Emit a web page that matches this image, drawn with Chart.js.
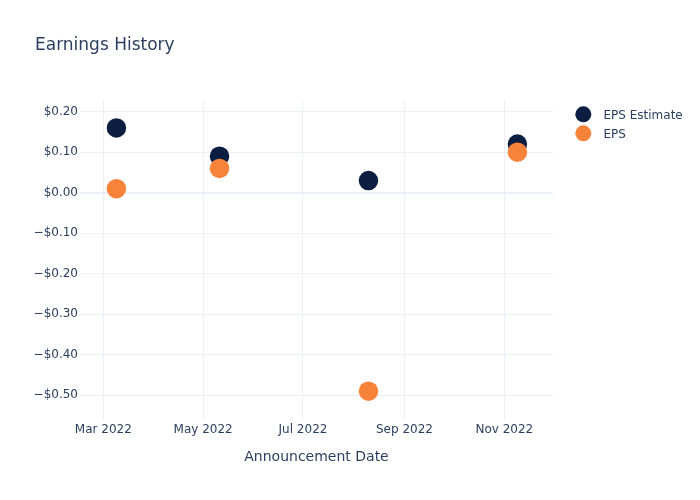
<!DOCTYPE html>
<html>
<head>
<meta charset="utf-8">
<script src="https://cdn.jsdelivr.net/npm/chart.js@4/dist/chart.umd.min.js"></script>
<style>
  html, body { margin: 0; padding: 0; background: #fff; }
  #wrap { width: 700px; height: 500px; }
</style>
</head>
<body>
<div id="wrap"><canvas id="chart" width="700" height="500"></canvas></div>
<script>
  const announceDates = ['2022-03-09', '2022-05-11', '2022-08-10', '2022-11-09'];
  const epsEstimate = [0.16, 0.09, 0.03, 0.12];
  const epsActual = [0.01, 0.06, -0.49, 0.10];

  const xTickDates = ['2022-03-01', '2022-05-01', '2022-07-01', '2022-09-01', '2022-11-01'];
  const xTickLabels = ['Mar 2022', 'May 2022', 'Jul 2022', 'Sep 2022', 'Nov 2022'];
  const yTicks = [-0.5, -0.4, -0.3, -0.2, -0.1, 0, 0.1, 0.2];

  const seriesNames = ['EPS Estimate', 'EPS'];
  const seriesColors = ['#0B1E41', '#F7823A'];

  const fontFamily = '"DejaVu Sans", Verdana, sans-serif';
  const textColor = '#2a3f5f';
  const gridColor = '#EBF0F8';

  const toPoints = (vals) => vals.map((v, i) => ({ x: Date.parse(announceDates[i]), y: v }));
  const fmtMoney = (v) => (v < 0 ? '\u2212$' : '$') + Math.abs(v).toFixed(2);

  // title + legend drawn the plotly way
  const plotlyDecor = {
    id: 'plotlyDecor',
    afterDraw(chart) {
      const ctx = chart.ctx;
      ctx.save();
      ctx.fillStyle = textColor;
      ctx.textBaseline = 'alphabetic';
      ctx.textAlign = 'left';
      ctx.font = '17px ' + fontFamily;
      ctx.fillText('Earnings History', 35, 49.5);

      ctx.font = '12px ' + fontFamily;
      seriesNames.forEach((name, i) => {
        const y = 114.3 + i * 19;
        ctx.beginPath();
        ctx.arc(583.3, y, 8, 0, Math.PI * 2);
        ctx.fillStyle = seriesColors[i];
        ctx.fill();
        ctx.fillStyle = textColor;
        ctx.fillText(name, 603.5, y + 4.3);
      });
      ctx.restore();
    }
  };

  const config = {
    type: 'scatter',
    data: {
      datasets: [
        {
          label: seriesNames[0],
          data: toPoints(epsEstimate),
          backgroundColor: seriesColors[0],
          borderWidth: 0,
          pointRadius: 9.75,
          order: 2
        },
        {
          label: seriesNames[1],
          data: toPoints(epsActual),
          backgroundColor: seriesColors[1],
          borderWidth: 0,
          pointRadius: 9.75,
          order: 1
        }
      ]
    },
    options: {
      responsive: false,
      animation: false,
      layout: { padding: { top: 100, right: 147, left: 0, bottom: 0 } },
      plugins: {
        legend: { display: false },
        title: { display: false },
        tooltip: { enabled: false }
      },
      scales: {
        x: {
          type: 'linear',
          min: Date.UTC(2022, 1, 14, 18),
          max: Date.UTC(2022, 10, 30, 18),
          border: { display: false },
          grid: { color: gridColor, lineWidth: 1, drawTicks: false },
          afterBuildTicks: (scale) => {
            scale.ticks = xTickDates.map((d) => ({ value: Date.parse(d) }));
          },
          afterFit: (scale) => { scale.height = 80; },
          ticks: {
            padding: 3,
            maxRotation: 0,
            autoSkip: false,
            color: textColor,
            font: { family: fontFamily, size: 12 },
            callback: (v) => {
              const i = xTickDates.findIndex((d) => Date.parse(d) === v);
              return i >= 0 ? xTickLabels[i] : '';
            }
          },
          title: {
            display: true,
            text: 'Announcement Date',
            color: textColor,
            font: { family: fontFamily, size: 14 },
            padding: { top: 0, bottom: 34 }
          }
        },
        y: {
          min: -0.5612,
          max: 0.2289,
          border: { display: false },
          grid: {
            color: gridColor,
            drawTicks: false,
            lineWidth: (c) => (c.tick && Math.abs(c.tick.value) < 1e-9 ? 2 : 1)
          },
          afterBuildTicks: (scale) => {
            scale.ticks = yTicks.map((v) => ({ value: v }));
          },
          afterFit: (scale) => { scale.width = 80; },
          ticks: {
            padding: 2,
            color: textColor,
            font: { family: fontFamily, size: 12 },
            callback: (v) => fmtMoney(v)
          }
        }
      }
    },
    plugins: [plotlyDecor]
  };

  const chart = new Chart(document.getElementById('chart'), config);
</script>
</body>
</html>
